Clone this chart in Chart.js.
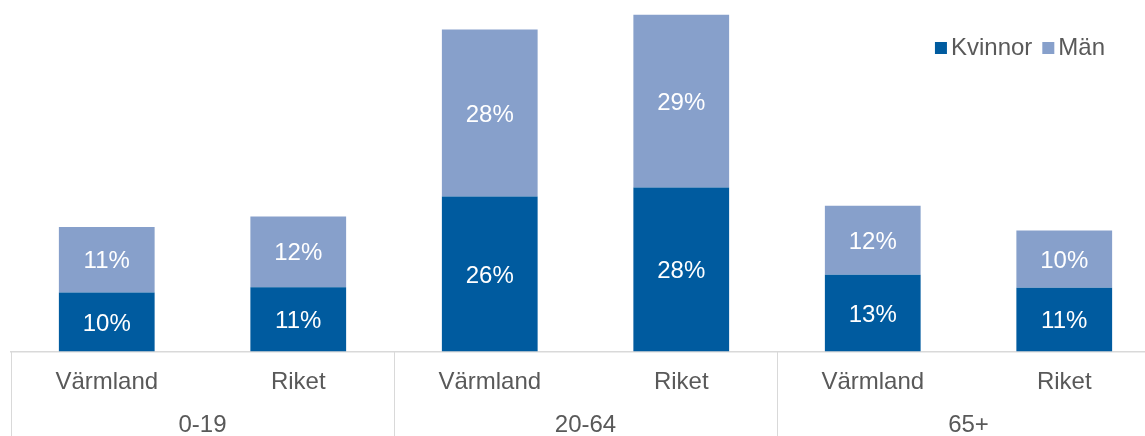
<!DOCTYPE html>
<html>
<head>
<meta charset="utf-8">
<script src="https://cdn.jsdelivr.net/npm/chart.js@4/dist/chart.umd.min.js"></script>
<style>
  html, body { margin: 0; padding: 0; background: #ffffff; overflow: hidden; }
  #wrap { position: relative; width: 1160px; height: 436px; }
</style>
</head>
<body>
<div id="wrap"><canvas id="c"></canvas></div>
<script>
// ---- data ----
const categories = ['Värmland', 'Riket', 'Värmland', 'Riket', 'Värmland', 'Riket'];
const groups = ['0-19', '20-64', '65+'];
const kvinnor = [10.0, 10.9, 26.3, 27.8, 13.0, 10.8];
const man = [11.1, 12.0, 28.3, 29.3, 11.7, 9.7];
const seriesNames = ['Kvinnor', 'Män'];

const FONT = '"Liberation Sans", Arial, sans-serif';
const TEXT = '#595959';
const GRID = '#d9d9d9';

const dataLabels = {
  id: 'dataLabels',
  afterDatasetsDraw(chart) {
    const ctx = chart.ctx;
    ctx.save();
    ctx.font = '24px ' + FONT;
    ctx.fillStyle = '#ffffff';
    ctx.textAlign = 'center';
    ctx.textBaseline = 'middle';
    chart.data.datasets.forEach((ds, di) => {
      const meta = chart.getDatasetMeta(di);
      meta.data.forEach((el, i) => {
        const v = ds.data[i];
        ctx.fillText(Math.round(v) + '%', el.x, (el.y + el.base) / 2 + 2);
      });
    });
    ctx.restore();
  }
};

const separators = {
  id: 'separators',
  afterDraw(chart) {
    const x = chart.scales.x;
    const ctx = chart.ctx;
    const n = categories.length;
    const per = n / groups.length;
    ctx.save();
    ctx.strokeStyle = GRID;
    ctx.lineWidth = 1;
    for (let g = 0; g <= groups.length; g++) {
      const idx = g * per;
      const px = Math.round(x.getPixelForValue(idx - 0.5)) + 0.5;
      ctx.beginPath();
      ctx.moveTo(px, chart.chartArea.bottom);
      ctx.lineTo(px, chart.height);
      ctx.stroke();
    }
    ctx.restore();
  }
};

const customLegend = {
  id: 'customLegend',
  afterDraw(chart) {
    const ctx = chart.ctx;
    ctx.save();
    ctx.font = '24px ' + FONT;
    ctx.textBaseline = 'middle';
    ctx.textAlign = 'left';
    const box = 12, gapBox = 4, gapItem = 10;
    const items = chart.data.datasets.map(d => ({ label: d.label, color: d.backgroundColor }));
    let total = 0;
    items.forEach((it, i) => {
      total += box + gapBox + ctx.measureText(it.label).width + (i < items.length - 1 ? gapItem : 0);
    });
    let cx = chart.chartArea.right - 55 - total;
    const cy = chart.chartArea.top + 48;
    items.forEach(it => {
      ctx.fillStyle = it.color;
      ctx.fillRect(cx, cy - box / 2, box, box);
      cx += box + gapBox;
      ctx.fillStyle = TEXT;
      ctx.fillText(it.label, cx, cy);
      cx += ctx.measureText(it.label).width + gapItem;
    });
    ctx.restore();
  }
};

new Chart(document.getElementById('c'), {
  type: 'bar',
  data: {
    labels: categories,
    datasets: [
      { label: seriesNames[0], data: kvinnor, backgroundColor: '#005B9F', xAxisID: 'x' },
      { label: seriesNames[1], data: man, backgroundColor: '#87A0CB', xAxisID: 'x' }
    ]
  },
  options: {
    responsive: true,
    maintainAspectRatio: false,
    animation: false,
    layout: { padding: { left: 11, right: 0, top: 0, bottom: 0 } },
    plugins: { legend: { display: false }, tooltip: { enabled: false } },
    datasets: { bar: { categoryPercentage: 1.0, barPercentage: 0.5 } },
    scales: {
      x: {
        stacked: true,
        grid: { display: false, drawTicks: false },
        border: { display: true, color: GRID, width: 1.5 },
        ticks: { color: TEXT, font: { family: FONT, size: 24 }, padding: 16, maxRotation: 0, autoSkip: false },
        afterFit(s) { s.height = 45; }
      },
      x2: {
        type: 'category',
        labels: groups,
        position: 'bottom',
        offset: true,
        grid: { display: false, drawTicks: false },
        border: { display: false },
        ticks: { color: TEXT, font: { family: FONT, size: 24 }, padding: 14, maxRotation: 0 },
        afterFit(s) { s.height = 39.5; }
      },
      y: {
        stacked: true,
        display: false,
        min: 0,
        max: 59.6
      }
    }
  },
  plugins: [dataLabels, separators, customLegend]
});
</script>
</body>
</html>
